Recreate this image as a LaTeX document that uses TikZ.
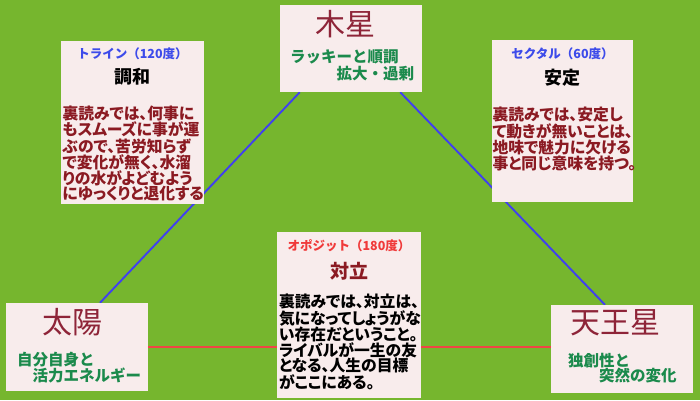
\documentclass[tikz,border=0pt]{standalone}
\usepackage{fontspec}
\newfontfamily\jpfont{Noto Sans CJK JP}
\newfontfamily\jppfont{Noto Sans CJK JP}[RawFeature=+palt]
\usetikzlibrary{positioning,backgrounds}
\definecolor{bggreen}{HTML}{76B62E}
\definecolor{boxpink}{HTML}{F8ECEC}
\definecolor{planetred}{HTML}{8E2438}
\definecolor{keygreen}{HTML}{1B8A4C}
\definecolor{aspblue}{HTML}{3D4BEA}
\definecolor{aspred}{HTML}{F03A3A}
\definecolor{bodyred}{HTML}{8B1A22}
\definecolor{trineblue}{HTML}{4040F0}
\definecolor{oppored}{HTML}{F04545}

\begin{document}
\begin{tikzpicture}[x=1pt, y=-1pt,
    every node/.style={font=\jpfont, inner sep=0pt},
    box/.style={fill=boxpink, minimum width=142pt},
    planetname/.style={font=\jpfont\fontsize{30}{30}\selectfont, text=planetred},
    keytext/.style={font=\jpfont\bfseries\fontsize{15.5}{15}\selectfont, text=keygreen, align=left},
    asphead/.style={font=\jpfont\bfseries\fontsize{12.5}{12}\selectfont},
    aspname/.style={font=\jpfont\bfseries\fontsize{18}{18}\selectfont},
    bodytext/.style={font=\jppfont\bfseries\fontsize{15.8}{15}\selectfont, text width=140pt, align=left},
    trineline/.style={draw=trineblue, line width=1.9pt},
    opposline/.style={draw=oppored, line width=2.2pt}
  ]
  % Planet boxes
  \node[box, minimum height=87pt] (jup) at (351,48.5) {};
  \node[box, minimum height=88pt] (sun) at (77,347) {};
  \node[box, minimum height=88pt] (ura) at (622,349) {};

  % Aspect boxes
  \node[box, minimum width=143pt, minimum height=163pt] (tri) at (132.5,122.5) {};
  \node[box, minimum width=141pt, minimum height=162pt] (sex) at (562.5,121) {};
  \node[box, minimum width=144pt, minimum height=166pt] (opp) at (349,315) {};

  % Jupiter
  \node[planetname, below=5pt of jup.north, xshift=-6pt] (jupname) {木星};
  \node[keytext, font=\jpfont\bfseries\fontsize{15.5}{17}\selectfont, below right=45pt and 10pt of jup.north west] (jupkey) {ラッキーと順調\\　　　拡大・過剰};

  % Sun
  \node[planetname, below right=5pt and 36pt of sun.north west] (sunname) {太陽};
  \node[keytext, below right=49pt and 11pt of sun.north west] (sunkey) {自分自身と\\　活力エネルギー};

  % Uranus
  \node[planetname, below right=5pt and 19pt of ura.north west] (uraname) {天王星};
  \node[keytext, below right=48pt and 17pt of ura.north west] (urakey) {独創性と\\　　突然の変化};

  % Trine
  \node[asphead, text=aspblue, below=7pt of tri.north] (trihead) {トライン（120度）};
  \node[aspname, below=8pt of trihead] (triname) {調和};
  \node[bodytext, text=bodyred, below=20pt of triname] (tribody) {裏読みでは、何事に\\もスムーズに事が運\\ぶので、苦労知らず\\で変化が無く、水溜\\りの水がよどむよう\\にゆっくりと退化する};

  % Sextile
  \node[asphead, text=aspblue, below=8pt of sex.north] (sexhead) {セクタル（60度）};
  \node[aspname, below=9pt of sexhead] (sexname) {安定};
  \node[bodytext, text=bodyred, below=20pt of sexname] (sexbody) {裏読みでは、安定し\\て動きが無いことは、\\地味で魅力に欠ける\\事と同じ意味を持つ。};

  % Opposition
  \node[asphead, text=aspred, below=8pt of opp.north] (opphead) {オポジット（180度）};
  \node[aspname, text=bodyred, font=\jpfont\bfseries\fontsize{19}{19}\selectfont, below=10pt of opphead] (oppname) {対立};
  \node[bodytext, below=13pt of oppname] (oppbody) {裏読みでは、対立は、\\気になってしょうがな\\い存在だということ。\\ライバルが一生の友\\となる、人生の目標\\がここにある。};

  % Aspect lines, behind the boxes
  \begin{scope}[on background layer]
    \fill[bggreen] (0,0) rectangle (700,400);
    \draw[trineline] ([xshift=20pt]jup.south west) -- ([xshift=23pt]sun.north);
    \draw[trineline] ([xshift=-22pt]jup.south east) -- ([xshift=-17pt]ura.north);
    \draw[opposline] (sun.east) -- (sun.east -| ura.west);
  \end{scope}
\end{tikzpicture}
\end{document}
